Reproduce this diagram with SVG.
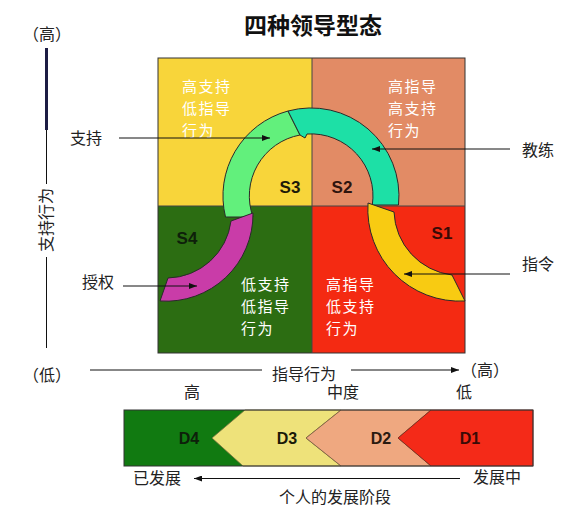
<svg xmlns="http://www.w3.org/2000/svg" width="578" height="522" viewBox="0 0 578 522">
<defs>
<marker id="ah" markerWidth="8" markerHeight="6" refX="8" refY="3" orient="auto" markerUnits="userSpaceOnUse">
<path d="M0,0 L8,3 L0,6 Z" fill="#111"/>
</marker>
<style>
.cn{font-family:"Noto Sans CJK SC","Noto Sans",sans-serif;font-size:16px;fill:#222}
.wt{font-family:"Noto Sans CJK SC","Noto Sans",sans-serif;font-size:15px;letter-spacing:1.5px;fill:#fff}
.lbl{font-family:"Liberation Sans",Arial,sans-serif;font-weight:bold;font-size:17px;fill:#221a10}
.ln{stroke:#111;stroke-width:1;fill:none}
.arc{stroke:#2a2a2a;stroke-width:1}
</style>
</defs>
<rect width="578" height="522" fill="#fff"/>
<text x="313" y="34" text-anchor="middle" style="font-family:'Noto Sans CJK SC',sans-serif;font-weight:bold;font-size:23px;fill:#111">四种领导型态</text>

<g id="quadrants">
<rect x="158" y="58" width="154" height="148" fill="#F8D53A"/>
<rect x="312" y="58" width="153" height="148" fill="#E28B65"/>
<rect x="158" y="206" width="154" height="147" fill="#2C6D12"/>
<rect x="312" y="206" width="153" height="147" fill="#F42A12"/>
<rect x="158" y="58" width="307" height="295" fill="none" stroke="#333" stroke-width="1"/>
<line x1="312" y1="58" x2="312" y2="353" stroke="#444" stroke-width="1"/>
<line x1="158" y1="206" x2="465" y2="206" stroke="#444" stroke-width="1"/>
</g>

<g id="q-text">
<text class="wt"><tspan x="182" y="92">高支持</tspan><tspan x="182" y="114">低指导</tspan><tspan x="182" y="136">行为</tspan></text>
<text class="wt"><tspan x="388" y="92">高指导</tspan><tspan x="388" y="114">高支持</tspan><tspan x="388" y="136">行为</tspan></text>
<text class="wt"><tspan x="241" y="290">低支持</tspan><tspan x="241" y="312">低指导</tspan><tspan x="241" y="334">行为</tspan></text>
<text class="wt"><tspan x="326" y="290">高指导</tspan><tspan x="326" y="312">低支持</tspan><tspan x="326" y="334">行为</tspan></text>
</g>

<g id="arcs">
<path id="arc-s3" class="arc" fill="#62F07C" d="M225.5,217 A88,88 0 0 1 288,111 L300,135 A62,62 0 0 0 253,217 Z"/>
<path id="arc-s2" class="arc" fill="#1DE0A6" d="M288,111 A88,88 0 0 1 398.5,205 L372.3,205 A62,62 0 0 0 307,134 L305,138 L300,135 Z"/>
<path id="arc-s4" class="arc" fill="#C93CA8" d="M253,213 A87,87 0 0 1 160,301 L168,278 A65,65 0 0 0 231,221 Z"/>
<path id="arc-s1" class="arc" fill="#F8CB12" d="M368,203 A92,92 0 0 0 465,301 L452,275 A66,66 0 0 1 394,212 Z"/>
</g>

<g id="s-labels">
<text class="lbl" x="290" y="193" text-anchor="middle" style="fill:#1e1a08">S3</text>
<text class="lbl" x="342" y="193" text-anchor="middle" style="fill:#2e140e">S2</text>
<text class="lbl" x="187" y="244" text-anchor="middle" style="fill:#0e200a">S4</text>
<text class="lbl" x="442" y="239" text-anchor="middle" style="fill:#3a0a06">S1</text>
</g>

<g id="connectors">
<line class="ln" x1="119" y1="138" x2="270" y2="138" marker-end="url(#ah)"/>
<line class="ln" x1="510" y1="149" x2="372" y2="149" marker-end="url(#ah)"/>
<line class="ln" x1="510" y1="274" x2="404" y2="274" marker-end="url(#ah)"/>
<line class="ln" x1="123" y1="286" x2="197" y2="286" marker-end="url(#ah)"/>
<line x1="46.5" y1="48" x2="46.5" y2="130" stroke="#1c1c44" stroke-width="3"/>
<line class="ln" x1="46.5" y1="130" x2="46.5" y2="184"/>
<line class="ln" x1="46.5" y1="257" x2="46.5" y2="348"/>
<line class="ln" x1="90" y1="370" x2="262" y2="370"/>
<line class="ln" x1="351" y1="370" x2="459" y2="370" marker-end="url(#ah)"/>
<line class="ln" x1="460" y1="478.5" x2="194" y2="478.5" marker-end="url(#ah)"/>
</g>

<g id="labels">
<text class="cn" x="70" y="144">支持</text>
<text class="cn" x="82" y="288">授权</text>
<text class="cn" x="522" y="156">教练</text>
<text class="cn" x="522" y="270">指令</text>
<text class="cn" x="23" y="40">（高）</text>
<text class="cn" transform="translate(52,220) rotate(-90)" text-anchor="middle">支持行为</text>
<text class="cn" x="23" y="381">（低）</text>
<text class="cn" x="304" y="380" text-anchor="middle">指导行为</text>
<text class="cn" x="461" y="376">（高）</text>
<text class="cn" x="192" y="398" text-anchor="middle">高</text>
<text class="cn" x="343" y="398" text-anchor="middle">中度</text>
<text class="cn" x="464" y="398" text-anchor="middle">低</text>
<text class="cn" x="133" y="484">已发展</text>
<text class="cn" x="473" y="483">发展中</text>
<text class="cn" x="335" y="503" text-anchor="middle">个人的发展阶段</text>
</g>

<g id="dev-bar">
<rect x="124" y="410" width="409" height="56" fill="#117A11"/>
<polygon points="245,410 341,410 306,438 341,466 243,466 212,438" fill="#EEE27A" stroke="#7a7040" stroke-width="0.8"/>
<polygon points="341,410 431,410 398,438 431,466 341,466 306,438" fill="#EFA880" stroke="#7a5a40" stroke-width="0.8"/>
<polygon points="431,410 533,410 533,466 431,466 398,438" fill="#F42A18" stroke="#7a2a20" stroke-width="0.8"/>
<rect x="124" y="410" width="409" height="56" fill="none" stroke="#333" stroke-width="1"/>
<text class="lbl" x="189" y="444" text-anchor="middle" style="font-size:16px;fill:#0d200a">D4</text>
<text class="lbl" x="287" y="444" text-anchor="middle" style="font-size:16px;fill:#1a1a08">D3</text>
<text class="lbl" x="381" y="444" text-anchor="middle" style="font-size:16px;fill:#2a1a10">D2</text>
<text class="lbl" x="470" y="444" text-anchor="middle" style="font-size:16px;fill:#3a0a06">D1</text>
</g>
</svg>
